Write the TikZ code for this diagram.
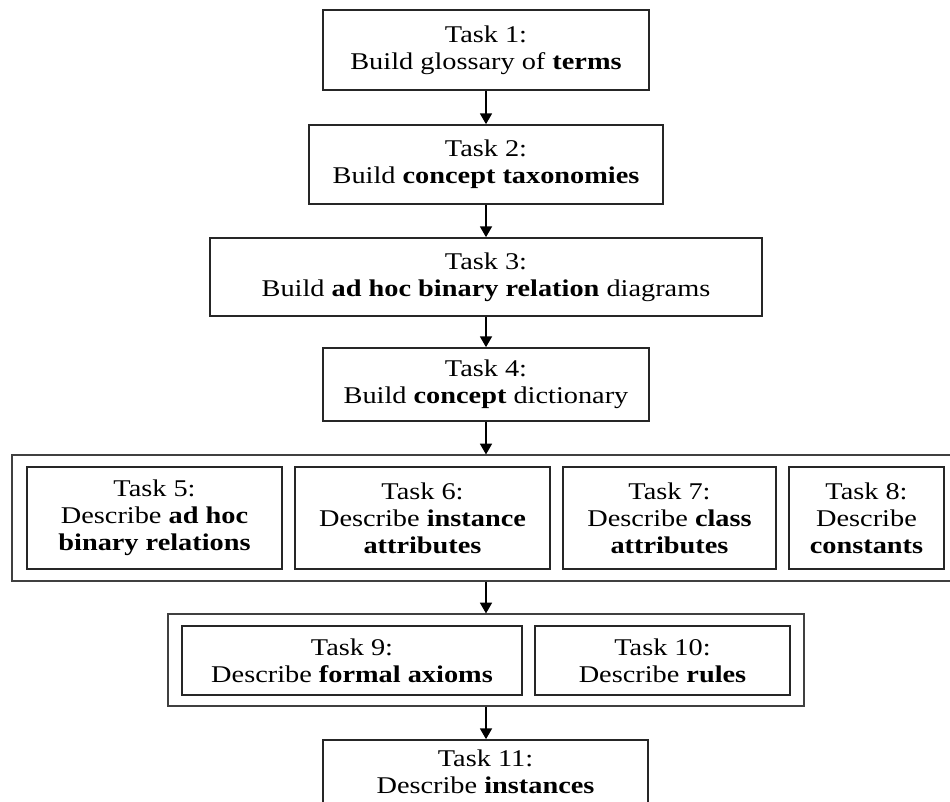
\documentclass[tikz,border=0pt]{standalone}
\usepackage{fontspec}
\setmainfont{Liberation Serif}[FakeStretch=1.18]
\usetikzlibrary{arrows.meta}
\begin{document}
\begin{tikzpicture}[
  x=0.75pt, y=-0.75pt,
  wh/.style 2 args={minimum width=#1*0.75pt, minimum height=#2*0.75pt},
  taskbox/.style={draw=black!85, line width=1.3pt, rectangle, inner sep=0pt,
    align=center, font=\fontsize{18pt}{20.25pt}\selectfont},
  groupbox/.style={draw=black!75, line width=0.9pt, rectangle, inner sep=0pt},
  flow/.style={line width=0.9pt, -{Triangle[width=9pt,length=8pt]}}
]
\useasboundingbox (0,0) rectangle (950,801);

% sequential tasks
\node[taskbox, wh={326}{80}] (t1) at (486,50) {Task 1:\\Build glossary of \textbf{terms}};
\node[taskbox, wh={354}{79}] (t2) at (486,164.5) {Task 2:\\Build \textbf{concept taxonomies}};
\node[taskbox, wh={552}{78}] (t3) at (486,277) {Task 3:\\Build \textbf{ad hoc binary relation} diagrams};
\node[taskbox, wh={326}{73}] (t4) at (486,384.5) {Task 4:\\Build \textbf{concept} dictionary};

% first group of parallel tasks
\node[groupbox, wh={947}{126}] (g1) at (485.5,518) {};
\node[taskbox, wh={255}{102}] (t5) at (154.5,518) {Task 5:\\Describe \textbf{ad hoc}\\\textbf{binary relations}};
\node[taskbox, wh={255}{102}] (t6) at (422.5,518) {Task 6:\\Describe \textbf{instance}\\\textbf{attributes}};
\node[taskbox, wh={213}{102}] (t7) at (669.5,518) {Task 7:\\Describe \textbf{class}\\\textbf{attributes}};
\node[taskbox, wh={155}{102}] (t8) at (866.5,518) {Task 8:\\Describe\\\textbf{constants}};

% second group of parallel tasks
\node[groupbox, wh={636}{92}] (g2) at (486,660) {};
\node[taskbox, wh={340}{69}] (t9) at (352,660.5) {Task 9:\\Describe \textbf{formal axioms}};
\node[taskbox, wh={255}{69}] (t10) at (662.5,660.5) {Task 10:\\Describe \textbf{rules}};

% final task
\node[taskbox, wh={325}{64}] (t11) at (485.5,772) {Task 11:\\Describe \textbf{instances}};

% flow between steps
\draw[flow] (t1) -- (t2);
\draw[flow] (t2) -- (t3);
\draw[flow] (t3) -- (t4);
\draw[flow] (t4.south) -- (t4.south |- g1.north);
\draw[flow] (g2.north |- g1.south) -- (g2.north);
\draw[flow] (g2.south) -- (g2.south |- t11.north);
\end{tikzpicture}
\end{document}
